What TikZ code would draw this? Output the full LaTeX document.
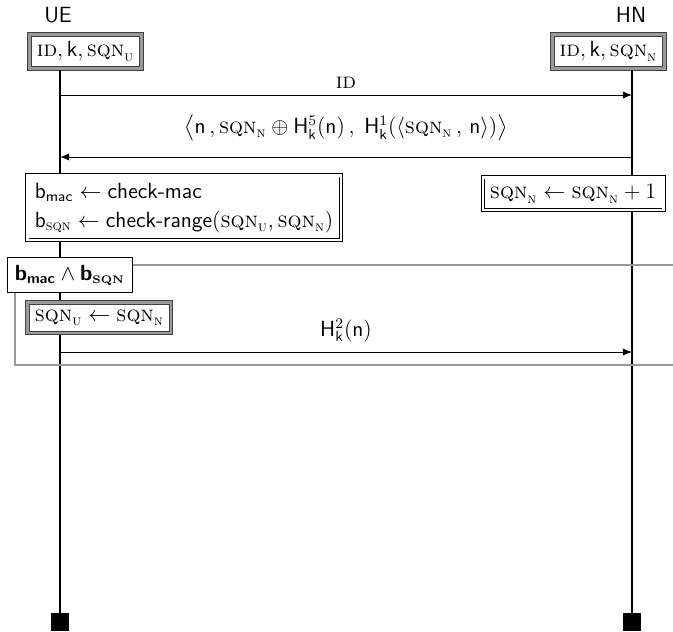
\documentclass[tikz,border=0pt]{standalone}
\usepackage{amsmath,amssymb}
\usepackage{tikz}
\usetikzlibrary{arrows.meta,positioning}
\definecolor{FrameGray}{HTML}{9A9A9A}
\newcommand{\sqn}{\textsc{sqn}}
\newcommand{\sqnU}{\sqn_{\textsc{u}}}
\newcommand{\sqnN}{\sqn_{\textsc{n}}}
\newcommand{\tid}{\textsc{id}}
\newcommand{\hk}[1]{\mathsf{H}^{#1}_{\mathsf{k}}}

\begin{document}
\begin{tikzpicture}[x=0.0192cm,y=-0.0192cm,
  every node/.style={font=\large},
  ent/.style={font=\large\sffamily},
  initbx/.style={draw=black!75, line width=0.6pt, double=FrameGray, double distance=1.3pt,
                 fill=white, inner sep=4pt},
  calcbx/.style={draw=black, line width=0.5pt, double=white, double distance=1.2pt,
                 fill=white, inner sep=4pt, align=left},
  condbx/.style={draw=black, line width=0.6pt, fill=white, inner sep=4pt, minimum height=0.66cm},
  life/.style={line width=1.6pt},
  msg/.style={-{Latex[length=5pt,width=4pt]}, line width=0.55pt},
  frm/.style={FrameGray, line width=1pt},
  endsq/.style={fill=black, inner sep=0pt, minimum width=0.33cm, minimum height=0.35cm}]
  \useasboundingbox (0,0) rectangle (673,631);
  % entities
  \node[ent] (ue) at (58,15) {UE};
  \node[ent] (hn) at (631,15) {HN};
  \node[initbx, anchor=west] (ueinit) at (29,51.5) {$\tid, \mathsf{k}, \sqnU$};
  \node[initbx, anchor=east] (hninit) at (665,51.5) {$\tid, \mathsf{k}, \sqnN$};
  \node[endsq] (ueend) at (60,622) {};
  \node[endsq] (hnend) at (632,622) {};
  \coordinate (uetop) at (60,70);
  \coordinate (hntop) at (632,70);
  \draw[life] (uetop) -- (ueend);
  \draw[life] (hntop) -- (hnend);
  % messages
  \coordinate (ue1) at (60,95);  \coordinate (hn1) at (632,95);
  \coordinate (ue2) at (60,157); \coordinate (hn2) at (632,157);
  \coordinate (ue3) at (60,352); \coordinate (hn3) at (632,352);
  \draw[msg] (ue1) -- (hn1) node[midway,above=0pt] {\tid};
  \draw[msg] (hn2) -- (ue2) node[midway,above=5pt]
    {$\bigl\langle \mathsf{n}\,, \sqnN \oplus \hk{5}(\mathsf{n})\,,\; \hk{1}(\langle \sqnN\,,\,\mathsf{n}\rangle)\bigr\rangle$};
  % checks
  \node[calcbx, anchor=north west] (uechk) at (27,175)
    {$\mathsf{b}_{\mathsf{mac}} \leftarrow \textsf{check-mac}$\\[2pt]
     $\mathsf{b}_{\sqn} \leftarrow \textsf{check-range}(\sqnU, \sqnN)$};
  \node[calcbx, anchor=north east] (hnincr) at (664,177) {$\sqnN \leftarrow \sqnN + 1$};
  % condition frame
  \node[condbx, anchor=north west] (cond) at (7,257)
    {$\boldsymbol{\mathsf{b}}_{\boldsymbol{\mathsf{mac}}} \wedge \boldsymbol{\mathsf{b}}_{\text{\fontsize{6}{7}\selectfont\bfseries SQN}}$};
  \coordinate (frtr) at (673,265);
  \coordinate (frbl) at (15,365);
  \coordinate (frbr) at (673,365);
  \draw[frm] (cond.east |- frtr) -- (frtr);
  \draw[frm] (cond.south -| frbl) -- (frbl) -- (frbr);
  \node[initbx, anchor=north west] (ueupd) at (27,302) {$\sqnU \leftarrow \sqnN$};
  \draw[msg] (ue3) -- (hn3) node[midway,above=2pt] {$\hk{2}(\mathsf{n})$};
\end{tikzpicture}
\end{document}
